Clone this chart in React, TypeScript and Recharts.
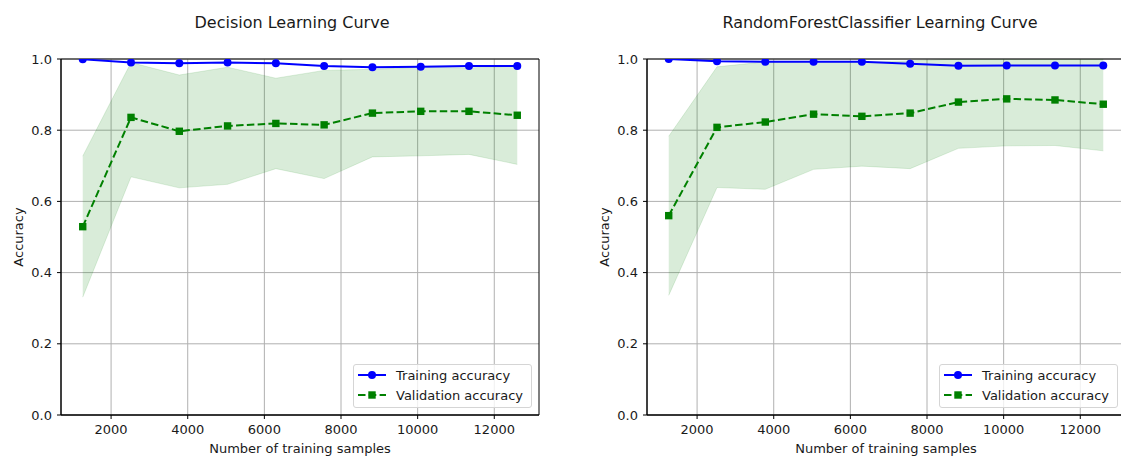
import React from 'react'
import {
  ComposedChart,
  Line,
  Area,
  XAxis,
  YAxis,
  CartesianGrid,
  ReferenceArea,
  Legend,
} from 'recharts'

const FONT = '"DejaVu Sans", "Liberation Sans", sans-serif'
const TEXT = '#1a1a1a'

// training set sizes (x)
const trainSizes = [1260, 2520, 3780, 5040, 6300, 7560, 8820, 10080, 11340, 12600]

// Decision tree
const dtTrain = [0.999, 0.99, 0.988, 0.99, 0.988, 0.98, 0.977, 0.978, 0.98, 0.98]
const dtVal = [0.529, 0.836, 0.797, 0.812, 0.819, 0.815, 0.848, 0.853, 0.853, 0.842]
const dtValLow = [0.331, 0.669, 0.638, 0.648, 0.692, 0.664, 0.725, 0.728, 0.732, 0.704]
const dtValHigh = [0.727, 0.99, 0.955, 0.977, 0.946, 0.968, 0.971, 0.977, 0.975, 0.98]

// Random forest
const rfTrain = [1.0, 0.994, 0.992, 0.992, 0.992, 0.987, 0.981, 0.982, 0.982, 0.982]
const rfVal = [0.56, 0.808, 0.823, 0.845, 0.839, 0.848, 0.879, 0.888, 0.885, 0.873]
const rfValLow = [0.336, 0.639, 0.634, 0.69, 0.699, 0.692, 0.749, 0.756, 0.757, 0.742]
const rfValHigh = [0.783, 0.978, 0.992, 0.993, 0.99, 0.995, 1.0, 1.0, 1.0, 1.0]

const xTicks = [2000, 4000, 6000, 8000, 10000, 12000]
const yTicks = [0, 0.2, 0.4, 0.6, 0.8, 1.0]
const X_DOMAIN: [number, number] = [693, 13167]

const CHART_W = 560
const CHART_H = 457
const FS = 13

function SquareDot({ cx, cy }: { cx?: number; cy?: number }) {
  if (cx === undefined || cy === undefined) return null
  return <rect x={cx - 3.7} y={cy - 3.7} width={7.4} height={7.4} fill="#008000" />
}

function LegendBox() {
  const row = { display: 'flex', alignItems: 'center', height: 20 }
  return (
    <div style={{
      boxSizing: 'border-box',
      width: 179,
      height: 44,
      border: '1px solid #d5d5d5',
      borderRadius: 3,
      background: 'rgba(255,255,255,0.8)',
      paddingLeft: 4,
      fontFamily: FONT,
      fontSize: FS,
      color: TEXT,
    }}>
      <div style={row}>
        <svg width={28} height={10}>
          <line x1={0} y1={5} x2={28} y2={5} stroke="#0000ff" strokeWidth={2} />
          <circle cx={14} cy={5} r={4} fill="#0000ff" />
        </svg>
        <span style={{ marginLeft: 10, whiteSpace: 'nowrap' }}>Training accuracy</span>
      </div>
      <div style={row}>
        <svg width={28} height={10}>
          <line x1={0} y1={5} x2={28} y2={5} stroke="#008000" strokeWidth={2} strokeDasharray="7.5 3.3" />
          <rect x={10.3} y={1.3} width={7.4} height={7.4} fill="#008000" />
        </svg>
        <span style={{ marginLeft: 10, whiteSpace: 'nowrap' }}>Validation accuracy</span>
      </div>
    </div>
  )
}

function YLabel({ viewBox }: any) {
  const x = viewBox.x + 18
  const y = viewBox.y + viewBox.height / 2
  return (
    <text x={x} y={y} transform={`rotate(-90, ${x}, ${y})`} textAnchor="middle"
      dominantBaseline="central" fontFamily={FONT} fontSize={FS} fill={TEXT}>
      Accuracy
    </text>
  )
}

function XLabel({ viewBox }: any) {
  return (
    <text x={viewBox.x + viewBox.width / 2} y={viewBox.y + 38} textAnchor="middle"
      fontFamily={FONT} fontSize={FS} fill={TEXT}>
      Number of training samples
    </text>
  )
}

interface CurveProps {
  title: string
  titleX: number
  left: number
  train: number[]
  val: number[]
  low: number[]
  high: number[]
}

function LearningCurve({ title, titleX, left, train, val, low, high }: CurveProps) {
  const rows = trainSizes.map((n, i) => ({
    n,
    train: train[i],
    val: val[i],
    band: [low[i], high[i]],
  }))

  return (
    <div style={{ position: 'absolute', left, top: 0, width: CHART_W, height: CHART_H }}>
      <div style={{
        position: 'absolute', left: titleX - 200, width: 400, top: 13,
        textAlign: 'center', fontFamily: FONT, fontSize: 16, color: TEXT, whiteSpace: 'nowrap',
      }}>
        {title}
      </div>
      <ComposedChart
        width={CHART_W}
        height={CHART_H}
        data={rows}
        margin={{ top: 59, right: 21, bottom: 0, left: 0 }}
      >
        <CartesianGrid stroke="#b0b0b0" strokeWidth={1} horizontalValues={yTicks} verticalValues={xTicks} />
        <XAxis
          dataKey="n"
          type="number"
          domain={X_DOMAIN}
          allowDataOverflow
          ticks={xTicks}
          height={42}
          tickSize={4}
          tickMargin={6}
          tick={{ fontFamily: FONT, fontSize: FS, fill: TEXT }}
          tickLine={{ stroke: '#000' }}
          axisLine={{ stroke: '#000' }}
          label={<XLabel />}
        />
        <YAxis
          type="number"
          domain={[0, 1]}
          allowDataOverflow
          ticks={yTicks}
          width={61}
          tickSize={4}
          tickMargin={5}
          tickFormatter={(v: number) => v.toFixed(1)}
          tick={{ fontFamily: FONT, fontSize: FS, fill: TEXT }}
          tickLine={{ stroke: '#000' }}
          axisLine={{ stroke: '#000' }}
          label={<YLabel />}
        />
        <Area
          dataKey="band"
          type="linear"
          fill="#008000"
          fillOpacity={0.15}
          stroke="#008000"
          strokeOpacity={0.12}
          isAnimationActive={false}
          legendType="none"
          activeDot={false}
        />
        <Line
          dataKey="train"
          type="linear"
          stroke="#0000ff"
          strokeWidth={2}
          dot={{ r: 4, fill: '#0000ff', stroke: '#0000ff', strokeWidth: 0 }}
          activeDot={false}
          isAnimationActive={false}
        />
        <Line
          dataKey="val"
          type="linear"
          stroke="#008000"
          strokeWidth={2}
          strokeDasharray="7.5 3.3"
          dot={<SquareDot />}
          activeDot={false}
          isAnimationActive={false}
        />
        <ReferenceArea
          x1={X_DOMAIN[0]}
          x2={X_DOMAIN[1]}
          y1={0}
          y2={1}
          fill="none"
          fillOpacity={0}
          stroke="#000"
          strokeWidth={1}
          ifOverflow="visible"
        />
        <Legend
          layout="vertical"
          align="center"
          verticalAlign="middle"
          content={() => <LegendBox />}
          wrapperStyle={{ left: 353, top: 364, width: 179, height: 44 }}
        />
      </ComposedChart>
    </div>
  )
}

export default function App() {
  return (
    <div style={{
      position: 'absolute', left: 0, top: 0, width: 1121, height: 457,
      overflow: 'hidden', background: '#fff',
    }}>
      <LearningCurve
        title="Decision Learning Curve"
        titleX={292}
        left={0}
        train={dtTrain}
        val={dtVal}
        low={dtValLow}
        high={dtValHigh}
      />
      <LearningCurve
        title="RandomForestClassifier Learning Curve"
        titleX={880 - 586}
        left={586}
        train={rfTrain}
        val={rfVal}
        low={rfValLow}
        high={rfValHigh}
      />
    </div>
  )
}
